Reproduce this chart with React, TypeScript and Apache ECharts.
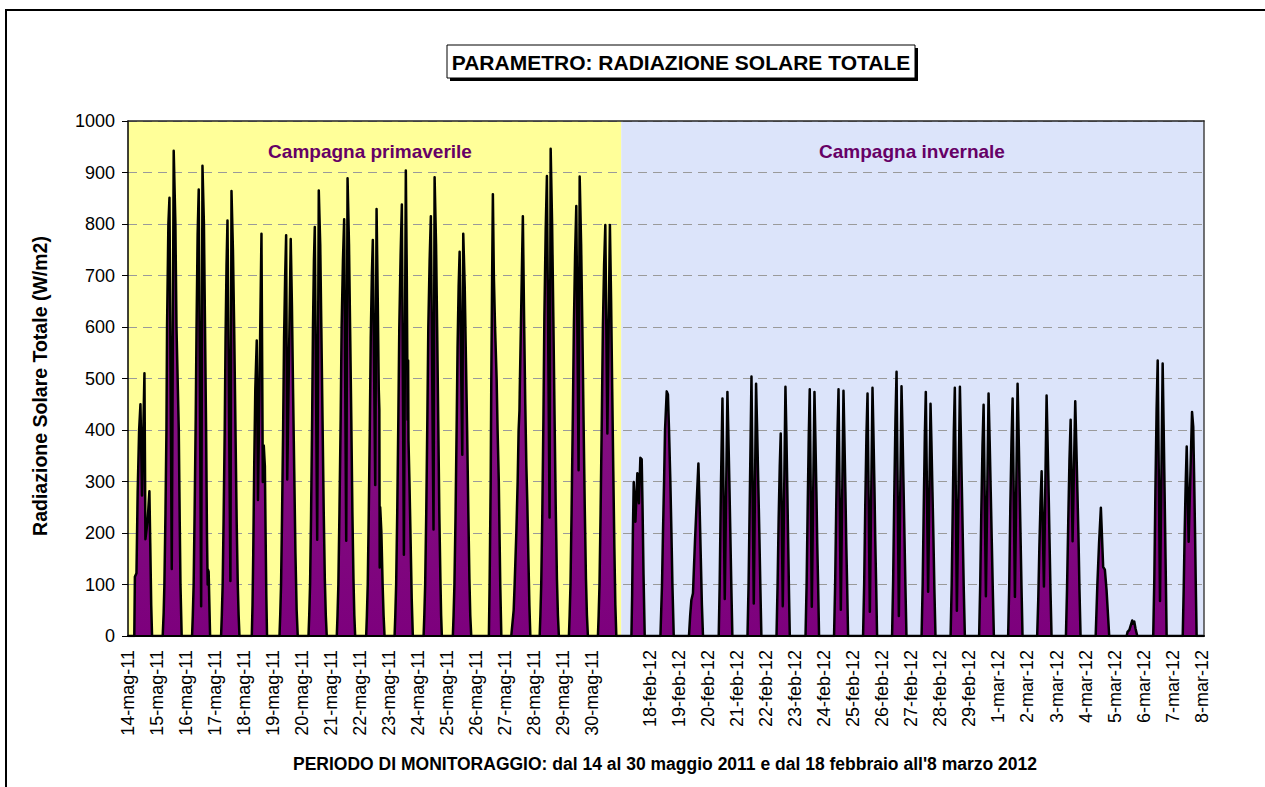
import React, { useEffect, useRef } from 'react';
import * as echarts from 'echarts';

const springLabels = [
  '14-mag-11', '15-mag-11', '16-mag-11', '17-mag-11', '18-mag-11', '19-mag-11',
  '20-mag-11', '21-mag-11', '22-mag-11', '23-mag-11', '24-mag-11', '25-mag-11',
  '26-mag-11', '27-mag-11', '28-mag-11', '29-mag-11', '30-mag-11',
];

const winterLabels = [
  '18-feb-12', '19-feb-12', '20-feb-12', '21-feb-12', '22-feb-12', '23-feb-12',
  '24-feb-12', '25-feb-12', '26-feb-12', '27-feb-12', '28-feb-12', '29-feb-12',
  '1-mar-12', '2-mar-12', '3-mar-12', '4-mar-12', '5-mar-12', '6-mar-12',
  '7-mar-12', '8-mar-12',
];

// [hour of day, W/m2], one list per day (14-30 May 2011)
const springDays: number[][][] = [
  [[5.2,0],[5.7,115],[7.0,122],[8.0,280],[9.2,400],[10.3,450],[11.6,273],[13.6,510],[14.4,188],[16.3,226],[17.7,281],[18.4,180],[19.2,60],[19.9,0]],
  [[4.7,0],[5.5,45],[6.1,100],[7.0,240],[7.8,400],[8.3,600],[9.4,800],[10.3,851],[12.2,130],[13.8,942],[15.2,800],[16.1,600],[18.0,400],[18.8,220],[19.4,100],[20.4,0]],
  [[5.0,0],[5.6,40],[6.3,100],[7.1,240],[8.0,420],[8.7,600],[9.6,780],[10.5,867],[12.5,58],[13.6,913],[14.8,800],[15.7,600],[16.6,400],[17.3,200],[17.9,100],[18.0,130],[18.7,125],[19.9,0]],
  [[5.0,0],[5.6,40],[6.3,100],[7.1,230],[8.0,400],[8.7,580],[9.5,720],[10.3,807],[12.7,107],[13.6,864],[14.8,750],[15.8,600],[16.9,400],[17.9,220],[18.8,100],[19.5,40],[20.2,0]],
  [[6.4,0],[7.0,60],[7.6,160],[8.4,330],[9.3,480],[10.5,574],[11.5,264],[14.4,781],[15.5,299],[16.3,370],[17.2,330],[17.8,200],[18.4,80],[19.0,0]],
  [[5.3,0],[5.9,40],[6.6,100],[7.4,230],[8.3,400],[9.1,580],[10.0,700],[10.8,778],[11.7,304],[14.6,771],[15.6,640],[16.5,480],[17.5,320],[18.5,160],[19.5,50],[20.4,0]],
  [[5.3,0],[5.9,40],[6.6,100],[7.4,230],[8.3,420],[9.0,600],[9.8,730],[10.5,794],[12.5,187],[13.8,865],[15.0,760],[15.9,600],[16.9,420],[17.9,240],[18.8,110],[19.6,40],[20.4,0]],
  [[4.7,0],[5.3,40],[6.0,100],[6.9,240],[7.9,420],[8.7,600],[9.8,730],[10.8,809],[12.5,185],[13.6,889],[14.8,760],[15.7,600],[16.7,420],[17.6,240],[18.5,110],[19.2,40],[19.9,0]],
  [[5.0,0],[5.6,40],[6.3,100],[7.1,230],[8.0,400],[8.8,580],[9.7,700],[10.5,769],[12.5,293],[13.6,829],[14.6,650],[15.4,480],[15.9,440],[16.2,133],[16.6,250],[17.6,200],[18.6,100],[19.4,40],[20.2,0]],
  [[4.5,0],[5.1,40],[5.8,100],[6.7,240],[7.6,420],[8.4,600],[9.5,740],[10.5,838],[12.2,158],[13.8,904],[14.6,700],[15.3,420],[15.7,535],[16.0,380],[16.8,300],[17.8,180],[18.7,70],[19.6,0]],
  [[4.5,0],[5.1,40],[5.8,100],[6.7,240],[7.6,420],[8.4,600],[9.5,730],[10.5,815],[12.7,207],[13.6,891],[14.8,760],[15.7,600],[16.6,420],[17.5,240],[18.4,110],[19.0,40],[19.6,0]],
  [[4.7,0],[5.3,40],[6.0,100],[6.9,230],[7.8,400],[8.6,560],[9.5,680],[10.3,746],[12.5,352],[13.3,781],[14.5,680],[15.5,540],[16.5,400],[17.5,240],[18.4,110],[19.1,40],[19.9,0]],
  [[10.5,0],[11.1,100],[12.0,300],[12.5,500],[13.2,700],[13.8,858],[14.6,700],[15.6,600],[16.9,500],[17.7,400],[18.7,300],[19.9,100],[20.8,0]],
  [[5.0,0],[7.0,50],[7.8,100],[9.2,200],[10.3,300],[11.1,400],[11.8,438],[12.0,471],[14.6,815],[15.7,600],[16.6,450],[17.5,330],[18.3,257],[19.2,150],[20.0,60],[20.8,0]],
  [[4.5,0],[5.1,40],[5.8,100],[6.7,240],[7.6,420],[8.4,620],[9.5,790],[10.5,893],[12.7,230],[13.6,946],[14.8,800],[15.8,620],[16.8,430],[17.8,250],[18.8,110],[19.6,40],[20.4,0]],
  [[4.7,0],[5.3,40],[6.0,100],[6.9,240],[7.9,420],[8.8,600],[9.8,740],[10.8,835],[12.7,322],[13.6,892],[14.8,760],[15.8,600],[16.8,420],[17.8,250],[18.8,110],[19.6,40],[20.4,0]],
  [[4.7,0],[5.3,40],[6.0,100],[6.9,240],[7.9,420],[8.8,600],[9.8,720],[10.8,798],[12.5,393],[14.6,798],[15.6,650],[16.5,480],[17.4,320],[18.3,170],[19.1,60],[19.9,0]],
];

// [hour within slot, W/m2], one list per winter day (slots after the gap)
const winterDays: number[][][] = [
  [[8.4,0],[9.0,80],[9.6,200],[10.3,299],[11.7,222],[13.3,316],[14.6,258],[15.8,346],[16.9,343],[17.6,250],[18.4,120],[19.4,0]],
  [[8.4,0],[9.7,100],[10.5,200],[11.4,300],[12.2,400],[13.6,475],[14.6,469],[15.5,400],[16.6,300],[17.5,200],[18.3,100],[19.4,0]],
  [[8.0,0],[9.0,40],[10.0,70],[11.3,83],[13.0,186],[15.8,335],[16.8,250],[17.8,150],[18.7,60],[19.6,0]],
  [[8.6,0],[9.4,100],[10.5,300],[11.7,461],[13.6,72],[15.8,474],[16.5,400],[17.4,300],[18.2,200],[19.0,100],[19.9,0]],
  [[8.4,0],[9.3,100],[10.5,300],[11.7,504],[13.6,63],[15.5,490],[16.4,400],[17.3,300],[18.2,200],[19.0,100],[19.9,0]],
  [[8.4,0],[9.3,100],[10.2,230],[11.1,330],[11.9,393],[13.6,58],[15.8,484],[16.6,390],[17.3,290],[18.0,190],[18.7,90],[19.4,0]],
  [[8.4,0],[9.3,100],[10.2,250],[11.1,390],[11.9,479],[13.6,57],[15.8,474],[16.6,380],[17.4,280],[18.1,180],[18.9,90],[19.6,0]],
  [[8.0,0],[8.9,100],[9.8,250],[10.8,390],[11.7,479],[13.6,51],[15.8,476],[16.6,380],[17.4,280],[18.1,180],[18.9,90],[19.6,0]],
  [[8.0,0],[8.9,100],[9.8,250],[10.8,390],[11.7,471],[13.6,47],[15.8,482],[16.6,390],[17.4,290],[18.1,185],[18.9,90],[19.6,0]],
  [[8.0,0],[8.9,110],[9.8,270],[10.8,420],[11.7,513],[13.6,39],[15.8,485],[16.6,400],[17.4,300],[18.2,200],[19.0,100],[19.9,0]],
  [[8.4,0],[9.3,100],[10.2,250],[11.1,390],[11.9,474],[13.8,86],[15.8,451],[16.6,370],[17.4,280],[18.2,190],[19.0,90],[19.9,0]],
  [[8.4,0],[9.3,100],[10.2,250],[11.1,400],[11.9,482],[13.6,49],[16.1,484],[16.9,390],[17.7,290],[18.5,190],[19.3,90],[20.2,0]],
  [[8.0,0],[8.9,100],[9.8,240],[10.8,370],[11.7,449],[13.6,77],[15.8,471],[16.7,380],[17.6,280],[18.5,180],[19.3,90],[20.2,0]],
  [[8.0,0],[8.9,100],[9.8,250],[10.8,380],[11.7,461],[13.6,76],[15.8,490],[16.6,400],[17.4,300],[18.2,200],[19.0,100],[19.9,0]],
  [[8.0,0],[8.9,70],[9.8,170],[10.8,260],[11.7,320],[13.6,96],[15.8,467],[16.6,380],[17.4,290],[18.2,190],[19.0,90],[19.9,0]],
  [[7.8,0],[8.7,90],[9.7,220],[10.7,340],[11.7,420],[13.3,184],[15.5,456],[16.4,370],[17.3,280],[18.2,190],[19.0,90],[19.9,0]],
  [[8.4,0],[9.8,100],[11.2,180],[12.7,249],[14.6,134],[16.0,129],[17.4,89],[19.6,0]],
  [[10.0,0],[10.8,8],[12.3,12],[13.6,22],[14.6,30],[15.3,24],[16.3,28],[17.3,15],[18.8,0]],
  [[8.0,0],[8.9,110],[9.8,280],[10.8,440],[11.7,535],[13.6,68],[15.8,529],[16.6,410],[17.4,280],[18.2,150],[19.1,0]],
  [[8.4,0],[9.2,90],[10.0,200],[10.9,300],[11.7,368],[13.3,183],[16.1,435],[17.1,406],[17.9,300],[18.6,200],[19.2,100],[19.9,0]],
];

const yTicks = [0, 100, 200, 300, 400, 500, 600, 700, 800, 900, 1000];

const WINTER_FIRST_SLOT = 17;
const WINTER_LABEL_SLOT = 18;
const SPLIT_HOUR = 408;
const TOTAL_HOURS = 890;

const FONT = '"Liberation Sans", Arial, Helvetica, sans-serif';

function buildPoints(): number[][] {
  const pts: number[][] = [[0, 0]];
  springDays.forEach((day, d) => day.forEach(([h, v]) => pts.push([d * 24 + h, v])));
  winterDays.forEach((day, k) =>
    day.forEach(([h, v]) => pts.push([(WINTER_FIRST_SLOT + k) * 24 + h, v]))
  );
  pts.push([TOTAL_HOURS, 0]);
  return pts;
}

function dayLabel(val: number): string {
  const i = Math.round(val / 24);
  if (Math.abs(val - i * 24) > 0.01) return '';
  if (i < springLabels.length) return springLabels[i];
  const j = i - WINTER_LABEL_SLOT;
  if (j >= 0 && j < winterLabels.length) return winterLabels[j];
  return '';
}

function textEl(text: string, x: number, y: number, font: string, fill: string, rotation = 0) {
  return {
    type: 'text',
    z: 102,
    silent: true,
    x,
    y,
    rotation,
    style: {
      text,
      font,
      fill,
      textAlign: 'center',
      textVerticalAlign: 'middle',
      align: 'center',
      verticalAlign: 'middle',
    },
  };
}

export default function App() {
  const ref = useRef<HTMLDivElement>(null);

  useEffect(() => {
    if (!ref.current) return;
    const chart = echarts.init(ref.current, null, { renderer: 'svg' });

    chart.setOption({
      animation: false,
      backgroundColor: '#ffffff',
      textStyle: { fontFamily: FONT },
      grid: { left: 128, top: 121, width: 1076, height: 515, containLabel: false },
      xAxis: [
        {
          type: 'value',
          min: 0,
          max: TOTAL_HOURS,
          interval: 24,
          z: 6,
          axisLine: { show: true, lineStyle: { color: '#000', width: 2 } },
          axisTick: { show: false },
          splitLine: { show: false },
          axisLabel: {
            rotate: 90,
            margin: 14,
            fontSize: 18,
            color: '#000',
            fontFamily: FONT,
            formatter: (v: number) => dayLabel(v),
          },
        },
        {
          type: 'value',
          position: 'top',
          min: 0,
          max: TOTAL_HOURS,
          z: 6,
          axisLine: { show: true, onZero: false, lineStyle: { color: '#222', width: 1.5 } },
          axisTick: { show: false },
          axisLabel: { show: false },
          splitLine: { show: false },
        },
      ],
      yAxis: [
        {
          type: 'value',
          min: 0,
          max: 1000,
          interval: 100,
          z: 3,
          axisLine: { show: true, lineStyle: { color: '#000', width: 1.5 } },
          axisTick: { show: true, inside: false, length: 6, lineStyle: { color: '#000', width: 1 } },
          axisLabel: {
            margin: 13,
            fontSize: 18,
            color: '#000',
            fontFamily: FONT,
            formatter: (v: number) => (yTicks.indexOf(v) >= 0 ? String(v) : ''),
          },
          splitLine: {
            show: true,
            lineStyle: { color: '#9a9a9a', width: 1, type: [9, 6] },
          },
        },
        {
          type: 'value',
          position: 'right',
          min: 0,
          max: 1000,
          z: 6,
          axisLine: { show: true, onZero: false, lineStyle: { color: '#444', width: 1.5 } },
          axisTick: { show: false },
          axisLabel: { show: false },
          splitLine: { show: false },
        },
      ],
      series: [
        {
          type: 'line',
          data: [],
          z: 0,
          silent: true,
          markArea: {
            silent: true,
            z: 0,
            data: [
              [{ xAxis: 0, itemStyle: { color: '#FFFF99' } }, { xAxis: SPLIT_HOUR }],
              [{ xAxis: SPLIT_HOUR, itemStyle: { color: '#DCE4FA' } }, { xAxis: TOTAL_HOURS }],
            ],
          },
        },
        {
          type: 'line',
          name: 'Radiazione Solare Totale',
          data: buildPoints(),
          z: 5,
          symbol: 'none',
          showSymbol: false,
          smooth: false,
          silent: true,
          lineStyle: { color: '#000', width: 2.5, join: 'round' },
          areaStyle: {
            opacity: 1,
            color: new echarts.graphic.LinearGradient(0, 0, 0, 1, [
              { offset: 0, color: '#8a2184' },
              { offset: 1, color: '#7d007d' },
            ]),
          },
        },
      ],
      graphic: [
        {
          type: 'rect',
          z: 100,
          silent: true,
          shape: { x: 6, y: 10, width: 1300, height: 820 },
          style: { fill: 'none', stroke: '#000', lineWidth: 2 },
        },
        {
          type: 'rect',
          z: 100,
          silent: true,
          shape: { x: 450, y: 48, width: 468, height: 33 },
          style: { fill: '#000' },
        },
        {
          type: 'rect',
          z: 101,
          silent: true,
          shape: { x: 447, y: 45, width: 468, height: 33 },
          style: { fill: '#fff', stroke: '#000', lineWidth: 1 },
        },
        textEl('PARAMETRO: RADIAZIONE SOLARE TOTALE', 681, 62, `bold 21px ${FONT}`, '#000'),
        textEl('Campagna primaverile', 370, 151, `bold 19px ${FONT}`, '#660066'),
        textEl('Campagna invernale', 912, 151, `bold 19px ${FONT}`, '#660066'),
        textEl('Radiazione Solare Totale (W/m2)', 40, 386, `bold 19.5px ${FONT}`, '#000', Math.PI / 2),
        textEl(
          "PERIODO DI MONITORAGGIO: dal 14 al 30 maggio 2011 e dal 18 febbraio all'8 marzo 2012",
          665,
          764,
          `bold 17.5px ${FONT}`,
          '#000'
        ),
      ],
    });

    return () => {
      chart.dispose();
    };
  }, []);

  return (
    <div
      ref={ref}
      style={{ position: 'fixed', left: 0, top: 0, width: '1265px', height: '787px', background: '#fff' }}
    />
  );
}
